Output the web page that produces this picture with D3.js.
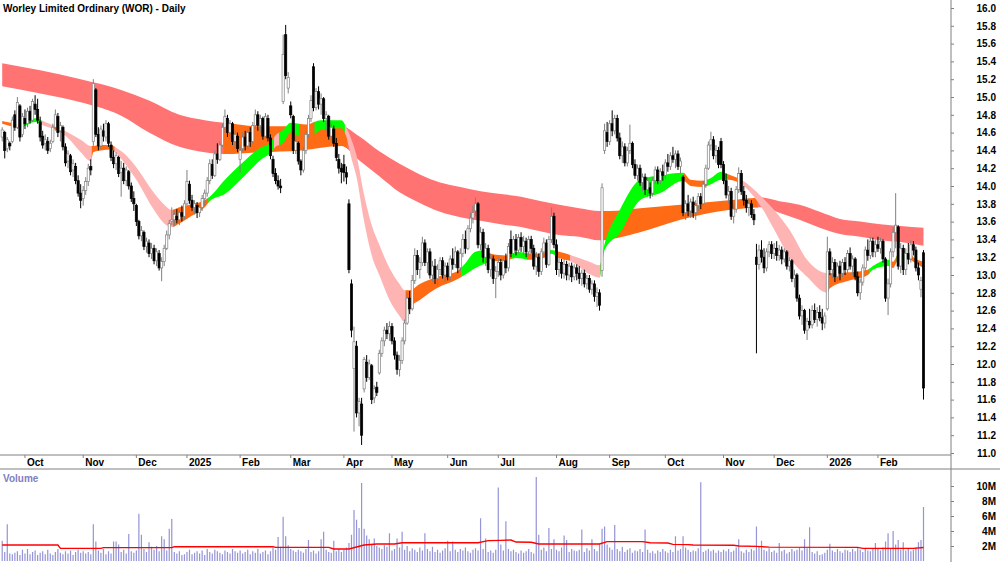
<!DOCTYPE html>
<html>
<head>
<meta charset="utf-8">
<script src="https://cdn.jsdelivr.net/npm/d3@7"></script>
<style>
    body { margin: 0; background: #fff; }
    svg text { font-family: Arial, "Liberation Sans", sans-serif; font-size: 10px; font-weight: bold; }
</style>
</head>
<body>
<div id="chart"></div>
<script>
const title = "Worley Limited Ordinary (WOR) - Daily";

// ASX trading calendar for the period shown
const firstDay = "2024-09-18";
const lastDay = "2026-02-26";
const holidays = ["2024-12-25", "2024-12-26", "2025-01-01", "2025-01-27", "2025-04-18", "2025-04-21",
    "2025-04-25", "2025-06-09", "2025-12-25", "2025-12-26", "2026-01-01", "2026-01-26"];

const monthNames = ["Jan", "Feb", "Mar", "Apr", "May", "Jun", "Jul", "Aug", "Sep", "Oct", "Nov", "Dec"];
const priceTicks = [11.0, 11.2, 11.4, 11.6, 11.8, 12.0, 12.2, 12.4, 12.6, 12.8, 13.0, 13.2, 13.4, 13.6, 13.8,
    14.0, 14.2, 14.4, 14.6, 14.8, 15.0, 15.2, 15.4, 15.6, 15.8, 16.0];
const volumeTicks = [2, 4, 6, 8, 10];

// daily prices, one line per month (Sep 2024 .. Feb 2026)
const opens = [
    14.55,14.60,14.42,14.48,14.50,14.80,14.66,14.90,14.58,
    14.76,14.70,14.84,14.74,14.92,14.86,14.72,14.56,14.48,14.50,14.42,14.50,14.66,14.78,14.62,14.66,14.44,14.28,14.34,14.18,14.22,14.06,13.92,
    13.86,13.95,14.05,14.22,14.50,15.08,14.58,14.45,14.62,14.55,14.70,14.46,14.32,14.25,14.32,14.15,14.20,14.06,14.16,14.00,13.86,
    13.78,13.60,13.44,13.48,13.32,13.36,13.24,13.30,13.16,13.24,13.08,13.15,13.30,13.45,13.60,13.62,13.66,13.62,13.70,13.66,
    13.80,14.02,13.84,13.76,13.78,13.70,13.76,13.86,13.92,14.06,14.24,14.12,14.36,14.30,14.46,14.66,14.76,14.60,14.70,14.50,14.56,
    14.30,14.42,14.55,14.45,14.60,14.50,14.68,14.80,14.68,14.76,14.56,14.76,14.54,14.30,14.14,14.06,14.00,14.95,15.70,15.10,
    14.90,14.78,14.40,14.48,14.28,14.18,14.40,14.58,14.76,15.34,14.88,15.06,14.92,14.98,14.76,14.78,14.56,14.64,14.48,14.30,14.20,
    14.24,14.15,13.80,12.90,11.95,12.20,11.45,11.55,11.72,12.02,11.85,11.98,11.62,11.74,11.90,12.12,12.26,12.38,12.34,
    12.42,12.26,12.10,11.94,12.04,12.26,12.46,12.74,12.62,12.94,13.22,13.06,13.14,13.36,13.14,13.26,13.00,13.10,12.96,13.06,13.16,13.00,
    13.10,12.98,13.18,13.12,13.26,13.08,13.24,13.40,13.30,13.52,13.64,13.72,13.80,13.34,13.48,13.20,13.30,13.06,13.18,12.96,
    13.04,13.14,13.00,13.16,13.08,13.40,13.24,13.40,13.28,13.42,13.32,13.38,13.26,13.40,13.30,13.10,13.20,13.04,13.26,13.36,13.12,13.40,13.66,
    13.34,13.06,13.14,13.02,13.12,13.00,13.10,12.98,13.08,13.02,12.96,13.02,12.90,12.96,12.84,12.90,12.76,12.80,13.05,14.40,14.60,
    14.50,14.70,14.62,14.76,14.54,14.34,14.44,14.26,14.40,14.48,14.24,14.12,14.20,14.04,14.10,13.96,13.98,13.92,14.06,14.18,14.06,14.16,
    14.12,14.26,14.22,14.34,14.30,14.36,14.22,14.10,13.70,13.80,13.72,13.82,13.70,13.78,13.88,13.80,14.02,14.20,14.46,14.52,14.34,14.40,14.50,
    14.24,14.06,13.90,13.94,13.66,13.74,13.96,14.14,13.94,13.84,13.76,13.80,13.68,13.20,13.12,13.28,13.20,13.08,13.26,13.34,
    13.24,13.30,13.22,13.28,13.18,13.26,13.10,13.16,12.96,13.00,12.74,12.54,12.60,12.38,12.48,12.44,12.60,12.50,12.58,12.52,12.46,
    12.62,13.26,13.06,13.14,12.98,13.10,13.02,13.14,13.06,13.24,13.10,13.18,12.98,12.80,12.92,13.08,13.28,13.22,13.38,13.26,
    13.34,13.30,13.38,13.18,12.74,12.90,13.26,13.48,13.54,13.10,13.30,13.06,13.24,13.18,13.34,13.28,13.08,12.84,13.25
];
const highs = [
    14.66,14.62,14.55,14.50,14.78,14.85,15.00,14.92,14.82,
    14.86,14.88,14.90,14.98,15.02,14.98,14.78,14.62,14.58,14.55,14.52,14.70,14.86,14.82,14.72,14.68,14.48,14.40,14.36,14.30,14.26,14.12,14.02,
    14.00,14.10,14.25,14.30,15.20,15.10,14.66,14.68,14.70,14.74,14.72,14.50,14.40,14.38,14.34,14.28,14.26,14.22,14.18,14.04,13.94,
    13.80,13.62,13.55,13.50,13.42,13.40,13.36,13.34,13.30,13.28,13.20,13.34,13.50,13.62,13.76,13.72,13.74,13.72,13.78,13.84,
    14.18,14.06,13.90,13.84,13.82,13.80,13.90,13.96,14.10,14.30,14.30,14.40,14.48,14.50,14.70,14.86,14.80,14.74,14.72,14.62,14.60,
    14.46,14.60,14.62,14.64,14.66,14.72,14.86,14.84,14.80,14.78,14.82,14.80,14.58,14.34,14.20,14.12,14.08,15.70,15.81,15.28,
    14.95,14.80,14.56,14.50,14.30,14.44,14.62,14.80,15.02,15.38,15.10,15.12,15.04,15.00,14.84,14.80,14.70,14.68,14.54,14.36,14.26,
    14.35,14.22,13.85,12.95,12.42,12.26,11.62,11.62,12.08,12.10,12.05,12.00,11.76,11.80,12.16,12.30,12.42,12.46,12.48,
    12.46,12.30,12.14,12.10,12.30,12.50,12.80,12.82,13.00,13.30,13.28,13.20,13.43,13.40,13.30,13.30,13.16,13.18,13.12,13.20,13.20,13.14,
    13.14,13.22,13.30,13.32,13.28,13.30,13.46,13.50,13.56,13.70,13.78,13.87,13.82,13.54,13.52,13.36,13.34,13.24,13.22,13.10,
    13.20,13.18,13.20,13.24,13.36,13.50,13.44,13.46,13.46,13.48,13.44,13.42,13.44,13.44,13.34,13.26,13.24,13.30,13.42,13.40,13.44,13.76,13.70,
    13.40,13.20,13.18,13.18,13.16,13.14,13.14,13.12,13.12,13.10,13.06,13.06,13.00,13.00,12.94,12.94,12.86,12.84,14.03,14.70,14.72,
    14.74,14.85,14.80,14.80,14.60,14.50,14.48,14.44,14.69,14.50,14.30,14.24,14.24,14.14,14.14,14.10,14.04,14.10,14.22,14.22,14.20,14.24,
    14.30,14.36,14.38,14.44,14.40,14.40,14.32,14.12,13.84,13.90,13.86,13.88,13.84,13.92,13.92,14.06,14.24,14.50,14.61,14.56,14.46,14.44,14.54,
    14.28,14.14,14.00,13.98,13.80,14.00,14.21,14.18,14.00,13.90,13.86,13.84,13.74,13.35,13.34,13.39,13.30,13.30,13.38,13.38,
    13.36,13.38,13.34,13.32,13.30,13.28,13.20,13.18,13.06,13.02,12.78,12.66,12.62,12.52,12.62,12.66,12.68,12.64,12.66,12.62,12.58,
    13.43,13.30,13.20,13.18,13.14,13.16,13.18,13.20,13.28,13.31,13.22,13.20,13.04,12.96,13.12,13.32,13.40,13.43,13.42,13.40,
    13.43,13.42,13.40,13.20,12.96,13.30,13.54,13.92,13.56,13.36,13.34,13.30,13.36,13.39,13.38,13.32,13.14,12.98,13.28
];
const lows = [
    14.50,14.31,14.38,14.40,14.48,14.62,14.64,14.50,14.55,
    14.64,14.66,14.70,14.72,14.80,14.70,14.50,14.42,14.40,14.36,14.38,14.48,14.62,14.55,14.50,14.40,14.22,14.20,14.12,14.10,14.02,13.88,13.75,
    13.78,13.90,14.00,14.12,14.45,14.55,14.40,14.42,14.50,14.50,14.44,14.28,14.20,14.18,14.10,13.88,14.02,14.00,13.96,13.82,13.72,
    13.55,13.40,13.38,13.28,13.25,13.20,13.18,13.12,13.10,13.05,12.93,13.10,13.28,13.40,13.56,13.55,13.58,13.56,13.60,13.62,
    13.78,13.80,13.72,13.68,13.64,13.65,13.72,13.78,13.88,14.02,14.08,14.10,14.25,14.28,14.44,14.60,14.55,14.52,14.46,14.42,14.38,
    14.15,14.38,14.40,14.42,14.44,14.48,14.64,14.62,14.60,14.52,14.54,14.50,14.30,14.10,14.02,13.96,13.92,14.92,15.20,15.04,
    14.76,14.36,14.36,14.24,14.12,14.15,14.36,14.54,14.72,14.84,14.85,14.86,14.80,14.72,14.60,14.52,14.50,14.44,14.28,14.14,14.03,
    14.05,14.02,13.02,12.30,11.24,11.40,11.30,11.09,11.68,11.80,11.82,11.55,11.56,11.64,11.88,12.08,12.20,12.28,12.26,
    12.22,12.05,11.88,11.86,12.00,12.22,12.44,12.56,12.60,12.90,13.00,12.96,13.10,13.10,13.02,12.96,12.92,12.90,12.88,13.00,12.96,12.92,
    12.94,12.94,13.06,13.08,13.02,13.04,13.20,13.24,13.28,13.48,13.58,13.66,13.30,13.28,13.14,13.10,13.02,12.98,12.90,12.74,
    12.98,12.94,12.96,13.02,13.04,13.20,13.20,13.22,13.24,13.26,13.22,13.20,13.22,13.24,13.06,13.00,12.98,13.00,13.20,13.08,13.10,13.36,13.30,
    13.00,12.98,12.96,12.96,12.94,12.94,12.92,12.94,12.94,12.90,12.88,12.86,12.84,12.80,12.78,12.70,12.64,12.60,12.98,14.36,14.44,
    14.46,14.56,14.58,14.50,14.30,14.26,14.22,14.22,14.36,14.20,14.08,14.06,14.00,13.94,13.90,13.88,13.86,13.88,14.02,14.02,14.02,14.06,
    14.08,14.16,14.18,14.26,14.20,14.18,14.14,13.66,13.62,13.66,13.64,13.64,13.62,13.72,13.74,13.78,13.98,14.18,14.40,14.30,14.26,14.20,14.20,
    14.02,13.86,13.80,13.62,13.58,13.70,13.92,13.90,13.78,13.70,13.66,13.64,13.56,12.12,13.06,13.14,13.02,13.04,13.20,13.18,
    13.18,13.16,13.16,13.12,13.14,13.06,13.04,12.92,12.86,12.70,12.50,12.44,12.34,12.27,12.40,12.40,12.46,12.42,12.48,12.38,12.40,
    12.60,13.00,12.96,12.92,12.92,12.94,12.98,13.00,13.02,13.06,13.00,12.94,12.76,12.72,12.88,13.04,13.16,13.18,13.20,13.20,
    13.26,13.24,13.14,12.70,12.55,12.86,13.20,13.30,13.06,13.02,13.00,13.00,13.12,13.14,13.22,13.04,12.94,12.75,11.60
];
const closes = [
    14.63,14.40,14.52,14.45,14.74,14.66,14.94,14.55,14.78,
    14.70,14.84,14.74,14.95,14.86,14.74,14.55,14.46,14.52,14.40,14.48,14.66,14.80,14.60,14.68,14.44,14.26,14.36,14.16,14.25,14.06,13.92,13.84,
    13.95,14.05,14.20,14.18,15.15,14.58,14.45,14.64,14.56,14.70,14.48,14.32,14.25,14.34,14.14,14.20,14.06,14.18,14.00,13.86,13.80,
    13.60,13.44,13.50,13.32,13.38,13.24,13.30,13.16,13.26,13.08,13.15,13.30,13.45,13.58,13.62,13.68,13.62,13.70,13.66,13.80,
    14.05,13.84,13.76,13.80,13.70,13.76,13.86,13.92,14.06,14.25,14.12,14.36,14.30,14.46,14.66,14.78,14.60,14.70,14.50,14.58,14.42,
    14.40,14.55,14.45,14.60,14.50,14.68,14.80,14.68,14.76,14.56,14.78,14.54,14.34,14.14,14.06,14.00,13.98,15.48,15.24,15.22,
    14.80,14.40,14.50,14.28,14.18,14.40,14.58,14.76,14.96,14.88,15.06,14.92,14.98,14.76,14.80,14.56,14.66,14.48,14.32,14.20,14.16,
    14.15,14.10,13.06,12.38,12.25,11.45,11.58,11.20,12.05,11.85,12.00,11.60,11.72,11.68,12.12,12.26,12.38,12.34,12.42,
    12.26,12.10,11.94,12.04,12.26,12.46,12.74,12.62,12.94,13.22,13.06,13.14,13.36,13.14,13.26,13.00,13.10,12.96,13.06,13.16,13.00,13.10,
    12.98,13.18,13.12,13.26,13.08,13.24,13.40,13.30,13.52,13.64,13.70,13.80,13.34,13.48,13.20,13.30,13.06,13.18,12.96,13.04,
    13.14,13.00,13.16,13.08,13.32,13.24,13.40,13.28,13.42,13.32,13.38,13.26,13.40,13.30,13.10,13.20,13.04,13.26,13.36,13.12,13.40,13.66,13.34,
    13.06,13.14,13.02,13.12,13.00,13.10,12.98,13.08,13.02,12.96,13.02,12.90,12.96,12.84,12.90,12.76,12.80,12.66,13.98,14.62,14.50,
    14.70,14.62,14.76,14.54,14.34,14.44,14.26,14.40,14.48,14.24,14.12,14.20,14.04,14.10,13.96,14.06,13.92,14.06,14.18,14.06,14.16,14.12,
    14.26,14.22,14.34,14.30,14.36,14.22,14.28,13.70,13.80,13.72,13.82,13.70,13.78,13.88,13.80,14.02,14.20,14.46,14.52,14.34,14.40,14.24,14.24,
    14.06,13.90,13.94,13.66,13.74,13.96,14.14,13.94,13.84,13.76,13.80,13.68,13.62,13.12,13.28,13.20,13.08,13.26,13.34,13.24,
    13.30,13.22,13.28,13.18,13.26,13.10,13.16,12.96,13.00,12.74,12.54,12.60,12.38,12.48,12.44,12.60,12.50,12.58,12.52,12.46,12.54,
    13.26,13.06,13.14,12.98,13.10,13.02,13.14,13.06,13.24,13.10,13.18,12.98,12.80,12.92,13.08,13.28,13.22,13.38,13.26,13.34,
    13.30,13.38,13.18,12.74,12.90,13.26,13.48,13.56,13.10,13.30,13.06,13.24,13.18,13.34,13.28,13.08,13.00,12.94,11.73
];
// daily volume, millions of shares
const volumes = [
    2.7,1.2,4.9,1.0,0.9,1.1,1.3,0.8,1.5,
    1.0,1.6,0.9,1.2,1.4,0.8,1.1,1.3,0.9,1.5,1.0,0.8,1.2,1.6,1.1,0.9,1.3,1.0,1.4,0.8,1.2,1.5,1.1,
    1.3,1.0,1.2,0.9,4.9,2.6,1.4,1.1,1.6,0.9,1.3,1.0,2.6,2.6,2.2,1.2,1.5,1.0,3.6,1.3,1.1,
    1.4,6.3,3.5,1.6,1.2,2.5,1.9,1.5,2.0,1.3,3.3,2.9,1.4,4.3,5.6,1.2,1.0,1.3,0.8,0.9,
    1.2,1.5,0.9,1.1,1.3,1.0,1.4,0.8,1.6,1.2,1.0,1.5,1.3,1.1,0.9,1.4,1.2,1.0,1.6,1.3,1.1,
    1.4,1.0,1.2,1.5,0.9,1.3,1.1,1.6,1.0,1.2,1.4,0.9,1.3,1.8,1.5,3.2,1.9,5.9,3.3,2.1,
    1.6,1.4,1.2,1.5,1.3,1.1,1.6,2.8,1.2,1.4,1.0,1.3,2.9,3.9,1.5,1.2,1.1,2.7,1.3,1.6,1.2,
    1.5,1.8,2.4,3.5,6.8,5.5,4.4,10.4,4.3,3.4,2.9,2.2,3.0,2.0,1.8,1.6,2.1,1.9,3.7,
    1.4,1.6,3.0,1.8,3.9,1.5,2.0,1.3,1.7,1.5,1.2,1.8,1.4,3.7,1.6,1.3,1.9,1.2,1.5,1.1,1.4,1.7,
    2.7,1.3,2.6,1.5,1.2,1.6,1.4,1.8,1.3,1.1,1.5,1.7,1.4,5.7,1.6,3.0,1.2,1.4,1.1,1.5,
    9.8,2.2,1.4,5.3,1.6,1.3,1.5,1.2,1.0,1.4,1.1,1.3,1.6,1.2,1.0,11.2,3.5,1.5,1.8,1.3,4.4,1.6,2.9,
    1.5,1.3,1.8,3.4,2.8,1.2,1.6,1.4,1.3,1.5,4.2,1.2,1.7,1.4,2.9,1.6,1.3,2.3,4.3,4.6,2.2,
    1.8,1.5,4.8,1.6,1.3,1.9,1.2,1.5,1.7,1.1,1.4,1.3,1.6,1.2,4.2,1.5,1.1,1.3,1.0,1.4,1.2,1.6,
    1.3,1.1,1.5,1.2,3.3,1.4,1.6,3.3,1.8,1.5,1.2,1.4,1.3,1.7,10.5,1.2,1.4,1.6,1.3,1.5,1.1,1.4,1.2,
    1.5,1.3,1.6,1.2,1.4,1.8,2.9,1.3,1.1,1.5,1.2,1.6,1.4,4.6,1.9,2.7,1.5,1.3,1.7,1.2,
    1.4,1.1,2.4,1.3,1.5,1.0,1.2,1.6,1.3,1.5,1.8,1.4,2.9,1.7,4.5,1.2,1.0,1.3,0.8,0.9,1.1,
    1.5,2.3,1.4,1.2,1.6,1.3,1.1,1.5,1.4,1.2,1.6,1.3,1.8,1.5,1.2,1.6,1.4,1.3,1.7,2.4,
    1.6,1.4,1.8,2.6,3.7,1.6,4.0,2.2,2.8,1.5,2.5,1.4,1.6,1.3,1.5,1.8,2.5,2.8,7.2
];

// long-term moving average band, read at these bar numbers
const longAt = [0, 15, 31, 47, 58, 70, 80, 88, 102, 118, 134, 141, 149, 157, 165, 173, 181, 189, 197, 205, 213,
    220, 228, 236, 240, 252, 268, 287, 300, 307, 315, 323, 331, 339, 347, 355, 364];
const longTop = [15.38, 15.30, 15.20, 15.08, 14.96, 14.80, 14.74, 14.71, 14.67, 14.67, 14.67, 14.56, 14.39, 14.25, 14.13,
    14.04, 13.99, 13.94, 13.91, 13.88, 13.83, 13.79, 13.75, 13.72, 13.72, 13.75, 13.79, 13.84, 13.87, 13.83, 13.79,
    13.71, 13.63, 13.60, 13.57, 13.55, 13.53];
const longBottom = [15.12, 15.04, 14.94, 14.79, 14.60, 14.44, 14.38, 14.36, 14.38, 14.40, 14.45, 14.29, 14.11, 13.93, 13.81,
    13.71, 13.65, 13.61, 13.57, 13.54, 13.49, 13.45, 13.43, 13.39, 13.40, 13.48, 13.62, 13.73, 13.76, 13.70, 13.62,
    13.53, 13.46, 13.43, 13.39, 13.37, 13.33];
const longTrend = [[0, 87, "down"], [88, 136, "flat"], [137, 237, "down"], [238, 298, "flat"], [299, 364, "down"]];

// short-term moving average band
const shortAt = [0, 7, 13, 17, 22, 26, 31, 35, 36, 39, 43, 45, 48, 53, 60, 64, 67, 70, 74, 80, 82, 88, 96, 102, 106,
    108, 111, 114, 120, 126, 134, 136, 138, 140, 143, 146, 149, 153, 157, 159, 161, 165, 173, 179, 182, 187, 191,
    193, 199, 203, 209, 214, 217, 220, 225, 232, 236, 238, 244, 252, 260, 269, 272, 277, 280, 284, 287, 292, 300,
    305, 311, 318, 326, 327, 335, 342, 344, 350, 352, 354, 359, 360, 364];
const shortTop = [14.73, 14.70, 14.76, 14.72, 14.66, 14.60, 14.52, 14.45, 14.45, 14.46, 14.46, 14.43, 14.37, 14.21, 13.92,
    13.79, 13.73, 13.76, 13.79, 13.84, 13.88, 14.07, 14.29, 14.43, 14.49, 14.57, 14.63, 14.71, 14.69, 14.74, 14.74,
    14.66, 14.52, 14.34, 13.90, 13.56, 13.34, 13.08, 12.90, 12.83, 12.83, 12.90, 12.99, 13.03, 13.10, 13.26, 13.28,
    13.24, 13.22, 13.26, 13.24, 13.25, 13.28, 13.26, 13.22, 13.15, 13.11, 13.35, 13.73, 14.07, 14.12, 14.15, 14.07,
    14.06, 14.09, 14.16, 14.13, 14.07, 13.88, 13.73, 13.51, 13.17, 13.02, 13.02, 13.03, 13.06, 13.10, 13.17, 13.15,
    13.23, 13.23, 13.20, 13.15];
const shortBottom = [14.70, 14.66, 14.72, 14.67, 14.62, 14.54, 14.38, 14.28, 14.38, 14.40, 14.41, 14.37, 14.27, 14.07, 13.73,
    13.58, 13.54, 13.58, 13.65, 13.76, 13.83, 13.91, 14.12, 14.29, 14.37, 14.44, 14.48, 14.60, 14.52, 14.63, 14.65,
    14.55, 14.31, 14.10, 13.60, 13.22, 13.00, 12.72, 12.54, 12.47, 12.63, 12.72, 12.87, 12.94, 12.99, 13.08, 13.13,
    13.15, 13.16, 13.19, 13.17, 13.19, 13.24, 13.19, 13.15, 13.01, 12.97, 13.28, 13.47, 13.84, 13.92, 14.06, 14.00,
    13.99, 14.02, 14.07, 14.07, 14.02, 13.76, 13.51, 13.20, 12.98, 12.80, 12.85, 12.94, 13.00, 13.06, 13.10, 13.08,
    13.17, 13.17, 13.15, 13.08];
const shortTrend = [[0, 7, "flat"], [8, 15, "up"], [16, 20, "down"], [21, 24, "flat"], [25, 35, "down"], [36, 44, "flat"],
    [45, 67, "down"], [68, 81, "flat"], [82, 107, "up"], [108, 109, "down"], [110, 117, "up"], [118, 123, "flat"],
    [124, 135, "up"], [136, 159, "down"], [160, 181, "flat"], [182, 191, "up"], [192, 201, "flat"], [202, 207, "up"],
    [208, 215, "flat"], [216, 219, "up"], [220, 224, "flat"], [225, 236, "down"], [237, 269, "up"], [270, 278, "flat"],
    [279, 286, "up"], [287, 290, "flat"], [291, 326, "down"], [327, 342, "flat"], [343, 350, "up"], [351, 353, "flat"],
    [354, 359, "up"], [360, 364, "flat"]];

// volume moving average (millions)
const volAvgAt = [0, 22, 23, 39, 40, 67, 68, 107, 108, 129, 131, 137, 143, 148, 155, 158, 188, 192, 197, 201, 203, 209,
    212, 236, 239, 253, 256, 263, 265, 271, 273, 289, 291, 298, 300, 303, 338, 340, 360, 364];
const volAvg = [2.13, 2.13, 1.69, 1.69, 1.78, 1.78, 1.91, 1.91, 1.82, 1.82, 1.60, 1.60, 2.13, 2.27, 2.27, 2.44, 2.44, 2.71,
    2.75, 2.80, 2.53, 2.50, 2.27, 2.27, 2.58, 2.58, 2.44, 2.40, 2.22, 2.18, 2.13, 2.10, 2.00, 1.95, 1.91, 1.85, 1.82,
    1.69, 1.69, 1.80];


function tradingDays(start, end, skip) {
    let days = [];
    let d = new Date(start + "T00:00:00Z");
    let stop = new Date(end + "T00:00:00Z");
    while (d <= stop) {
        let key = d.toISOString().slice(0, 10);
        let wd = d.getUTCDay();
        if (wd !== 0 && wd !== 6 && !skip.includes(key)) days.push(key);
        d.setUTCDate(d.getUTCDate() + 1);
    }
    return days;
}

class StockChart {
    constructor(parentElement) {
        this.parentElement = parentElement;

        this.initVis();
    }

    initVis() {
        let vis = this;

        vis.width = 1000;
        vis.height = 562;
        vis.axisX = 951;        // right hand axis line
        vis.dateTop = 455;      // date strip between price and volume panels
        vis.dateBottom = 469;

        vis.svg = d3.select("#" + vis.parentElement).append("svg")
            .attr("width", vis.width)
            .attr("height", vis.height);
        vis.defs = vis.svg.append("defs");

        vis.dates = tradingDays(firstDay, lastDay, holidays);

        vis.x = d3.scalePoint()
            .domain(vis.dates)
            .range([2.2, 923.5]);
        vis.step = vis.x.step();

        vis.y = d3.scaleLinear()
            .domain([11, 16])
            .range([453, 8]);

        vis.yVol = d3.scaleLinear()
            .domain([0, 10])
            .range([561, 486]);

        vis.wrangleData();
    }

    wrangleData() {
        let vis = this;

        vis.candles = vis.dates.map((d, i) => ({
            date: d, o: opens[i], h: highs[i], l: lows[i], c: closes[i], v: volumes[i]
        }));

        vis.longBand = longAt.map((b, k) => ({date: vis.dates[b], hi: longTop[k], lo: longBottom[k]}));
        vis.shortBand = shortAt.map((b, k) => ({date: vis.dates[b], hi: shortTop[k], lo: shortBottom[k]}));
        vis.volLine = volAvgAt.map((b, k) => ({date: vis.dates[b], v: volAvg[k]}));

        // first trading day of each month gets a tick
        vis.months = vis.dates.filter((d, i) => i > 0 && d.slice(5, 7) !== vis.dates[i - 1].slice(5, 7))
            .map(d => ({date: d, label: d.slice(5, 7) === "01" ? d.slice(0, 4) : monthNames[+d.slice(5, 7) - 1]}));

        vis.updateVis();
    }

    drawBand(rows, ranges, colors, name) {
        let vis = this;

        let area = d3.area()
            .x(d => vis.x(d.date))
            .y0(d => vis.y(d.lo))
            .y1(d => vis.y(d.hi))
            .curve(d3.curveMonotoneX);

        ranges.forEach((r, k) => {
            let id = name + k;
            let x0 = vis.x(vis.dates[r[0]]) - vis.step / 2 - 0.3;
            let x1 = vis.x(vis.dates[r[1]]) + vis.step / 2 + 0.3;
            if (r[0] === 0) x0 = 0;
            vis.defs.append("clipPath").attr("id", id)
                .append("rect")
                .attr("x", x0).attr("y", 0)
                .attr("width", x1 - x0).attr("height", vis.dateTop);
            vis.svg.append("path")
                .datum(rows)
                .attr("d", area)
                .attr("fill", colors[r[2]])
                .attr("clip-path", `url(#${id})`);
        });
    }

    updateVis() {
        let vis = this;

        // moving average bands, long first so the short one sits on top
        vis.drawBand(vis.longBand, longTrend, {down: "#ff7373", flat: "#ff6a14"}, "longClip");
        vis.drawBand(vis.shortBand, shortTrend, {down: "#ffb4b4", flat: "#ff6a14", up: "#00ff00"}, "shortClip");

        // candles
        let candles = vis.svg.append("g").attr("class", "candles");
        candles.selectAll("line")
            .data(vis.candles)
            .enter()
            .append("line")
            .attr("x1", d => vis.x(d.date))
            .attr("x2", d => vis.x(d.date))
            .attr("y1", d => vis.y(d.h))
            .attr("y2", d => vis.y(d.l))
            .attr("stroke", d => d.c >= d.o ? "#808080" : "#000")
            .attr("stroke-width", 1);

        candles.selectAll("rect")
            .data(vis.candles)
            .enter()
            .append("rect")
            .attr("x", d => vis.x(d.date) - 1.1)
            .attr("y", d => vis.y(Math.max(d.o, d.c)))
            .attr("width", 2.2)
            .attr("height", d => Math.max(0.8, Math.abs(vis.y(d.o) - vis.y(d.c))))
            .attr("fill", d => d.c >= d.o ? "#fff" : "#000")
            .attr("stroke", d => d.c >= d.o ? "#808080" : "#000")
            .attr("stroke-width", 0.7);

        // volume bars and average
        vis.svg.append("g")
            .selectAll("rect")
            .data(vis.candles)
            .enter()
            .append("rect")
            .attr("x", d => vis.x(d.date) - 0.6)
            .attr("y", d => vis.yVol(d.v))
            .attr("width", 1.2)
            .attr("height", d => vis.yVol(0) - vis.yVol(d.v))
            .attr("fill", "#9494d6");

        vis.svg.append("path")
            .datum(vis.volLine)
            .attr("fill", "none")
            .attr("stroke", "#ff0000")
            .attr("stroke-width", 1.4)
            .attr("d", d3.line().x(d => vis.x(d.date)).y(d => vis.yVol(d.v)));

        // frame lines
        vis.svg.append("line")
            .attr("x1", vis.axisX).attr("x2", vis.axisX)
            .attr("y1", 0).attr("y2", vis.height)
            .attr("stroke", "#808080");
        vis.svg.append("line")
            .attr("x1", 0).attr("x2", vis.axisX)
            .attr("y1", vis.dateTop).attr("y2", vis.dateTop)
            .attr("stroke", "#808080");
        vis.svg.append("line")
            .attr("x1", 0).attr("x2", vis.width)
            .attr("y1", vis.dateBottom).attr("y2", vis.dateBottom)
            .attr("stroke", "#808080");

        // price axis
        let yAxis = vis.svg.append("g")
            .attr("transform", `translate(${vis.axisX},0)`)
            .call(d3.axisRight(vis.y).tickValues(priceTicks).tickFormat(d3.format(".1f")).tickSize(3).tickSizeOuter(0));
        yAxis.select(".domain").remove();
        yAxis.selectAll("line").attr("stroke", "#808080");
        yAxis.selectAll("text")
            .attr("x", 45)
            .attr("text-anchor", "end")
            .attr("fill", "#000");

        // volume axis
        let vAxis = vis.svg.append("g")
            .attr("transform", `translate(${vis.axisX},0)`)
            .call(d3.axisRight(vis.yVol).tickValues(volumeTicks).tickFormat(d => d + "M").tickSize(3).tickSizeOuter(0));
        vAxis.select(".domain").remove();
        vAxis.selectAll("line").attr("stroke", "#808080");
        vAxis.selectAll("text")
            .attr("x", 45)
            .attr("text-anchor", "end")
            .attr("fill", "#000");

        // date strip
        let months = vis.svg.append("g").attr("class", "months");
        months.selectAll("line")
            .data(vis.months)
            .enter()
            .append("line")
            .attr("x1", d => vis.x(d.date))
            .attr("x2", d => vis.x(d.date))
            .attr("y1", vis.dateTop)
            .attr("y2", vis.dateTop + 3)
            .attr("stroke", "#808080");
        months.selectAll("text")
            .data(vis.months)
            .enter()
            .append("text")
            .attr("x", d => vis.x(d.date) + 2)
            .attr("y", 466)
            .text(d => d.label);

        // labels
        vis.svg.append("text")
            .attr("x", 3)
            .attr("y", 12)
            .text(title);
        vis.svg.append("text")
            .attr("x", 3)
            .attr("y", 482)
            .attr("fill", "#8080c0")
            .text("Volume");
    }
}

new StockChart("chart");
</script>
</body>
</html>
